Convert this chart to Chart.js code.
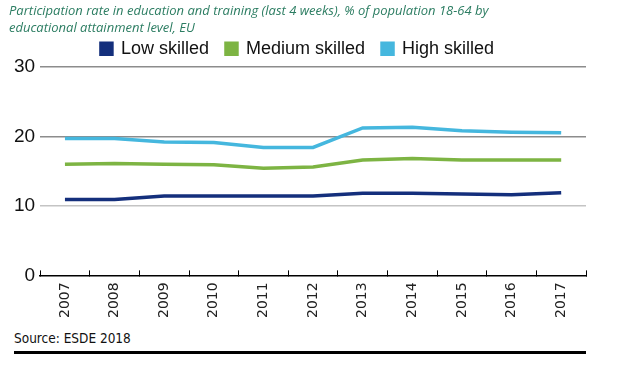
<!DOCTYPE html>
<html lang="en">
<head>
    <meta charset="UTF-8">
    <script src="https://cdn.jsdelivr.net/npm/chart.js"></script>
    <title>Participation rate in education and training</title>
    <style>
        body { margin: 0; background: #fff; }
        #box { position: relative; width: 627px; height: 369px; }
        #grafico { position: absolute; left: 0; top: 0; }
        #fonte {
            position: absolute; left: 14px; top: 330px;
            font: 13.5px "DejaVu Sans Condensed", "DejaVu Sans", sans-serif; color: #111;
        }
        #linha { position: absolute; left: 14px; top: 351px; width: 572px; height: 3px; background: #000; }
    </style>
</head>
<body>
    <div id="box">
        <canvas id="grafico" width="627" height="330"></canvas>
        <div id="fonte">Source: ESDE 2018</div>
        <div id="linha"></div>
    </div>

<script>
    const anos = ['2007', '2008', '2009', '2010', '2011', '2012', '2013', '2014', '2015', '2016', '2017'];
    const baixa = [10.9, 10.9, 11.4, 11.4, 11.4, 11.4, 11.8, 11.8, 11.7, 11.6, 11.9];
    const media = [16.0, 16.1, 16.0, 15.9, 15.4, 15.6, 16.6, 16.8, 16.6, 16.6, 16.6];
    const alta = [19.7, 19.7, 19.2, 19.1, 18.4, 18.4, 21.2, 21.3, 20.8, 20.6, 20.5];
    const titulo = ['Participation rate in education and training (last 4 weeks), % of population 18-64 by',
        'educational attainment level, EU'];

    const ctx = document.getElementById('grafico').getContext('2d');

    // legenda: espaço horizontal largo entre itens, mas altura controlada
    const ajusteLegenda = {
        id: 'ajusteLegenda',
        afterInit(chart) {
            const fitOriginal = chart.legend.fit;
            chart.legend.fit = function () {
                fitOriginal.call(this);
                this.height = 44;
            };
        }
    };

    function serie(nome, dados, cor) {
        return {
            label: nome,
            data: dados,
            borderColor: cor,
            backgroundColor: cor,
            borderWidth: 3.5,
            pointRadius: 0,
            tension: 0
        };
    }

    new Chart(ctx, {
        type: 'line',
        data: {
            labels: anos,
            datasets: [
                serie('Low skilled', baixa, '#142f7c'),
                serie('Medium skilled', media, '#7db443'),
                serie('High skilled', alta, '#45b7de')
            ]
        },
        options: {
            responsive: false,
            animation: false,
            layout: { padding: { left: 9, right: 41, top: 1, bottom: 0 } },
            plugins: {
                title: {
                    display: true,
                    text: titulo,
                    align: 'start',
                    color: '#2c7d62',
                    font: { family: 'Open Sans', size: 13, style: 'italic', weight: 'normal', lineHeight: 1.3 },
                    padding: { top: 2, bottom: -14 }
                },
                legend: {
                    labels: {
                        color: '#111',
                        boxWidth: 11,
                        boxHeight: 11,
                        padding: 17,
                        font: { family: 'Liberation Sans', size: 18 }
                    }
                },
                tooltip: { enabled: false }
            },
            scales: {
                x: {
                    offset: true,
                    grid: {
                        offset: true,
                        drawOnChartArea: false,
                        drawTicks: true,
                        tickLength: -5,
                        color: '#000'
                    },
                    border: { color: '#000', width: 1.5 },
                    ticks: {
                        color: '#222',
                        minRotation: 90,
                        maxRotation: 90,
                        padding: 12,
                        font: { family: 'DejaVu Sans', size: 14 }
                    }
                },
                y: {
                    min: 0,
                    max: 30,
                    ticks: {
                        stepSize: 10,
                        color: '#111',
                        padding: 5,
                        font: { family: 'Liberation Sans', size: 19 }
                    },
                    border: { display: false },
                    grid: {
                        drawTicks: false,
                        lineWidth: 1.5,
                        color: c => c.tick.value === 0 ? 'rgba(0,0,0,0)' : (c.tick.value === 10 ? '#c4c4c4' : '#8c8c8c')
                    }
                }
            }
        },
        plugins: [ajusteLegenda]
    });
</script>
</body>
</html>
